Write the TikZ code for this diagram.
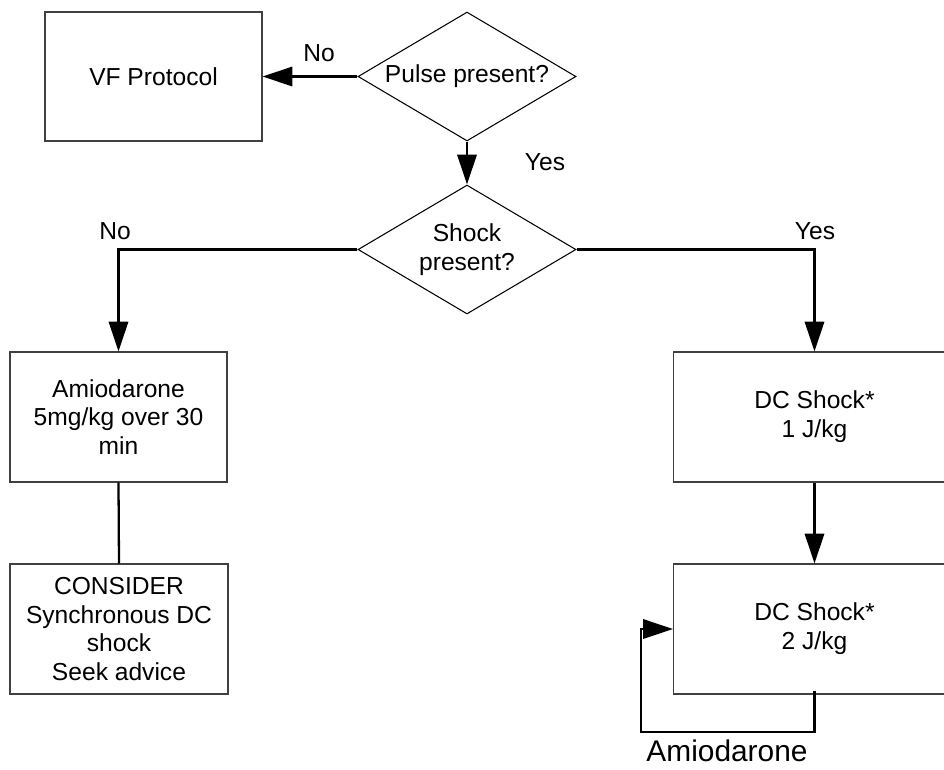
\documentclass[tikz,border=0pt]{standalone}
\usepackage{fontspec}
\setmainfont{Liberation Sans}
\usetikzlibrary{shapes.geometric,arrows.meta,positioning}
\tikzset{
  box/.style={draw=black!75, line width=0.6pt, rectangle, inner sep=0pt, align=center, font=\fontsize{14pt}{16.4pt}\selectfont},
  decision/.style={draw=black, line width=0.6pt, diamond, aspect=1.69, inner sep=0pt, minimum width=4.36cm, minimum height=2.58cm, align=center, font=\fontsize{14pt}{16.4pt}\selectfont},
  conn/.style={line width=1.3pt, draw=black},
  arr/.style={conn, -{Triangle[length=17pt,width=11pt]}},
  lbl/.style={font=\fontsize{14pt}{16.4pt}\selectfont, inner sep=0pt},
  biglbl/.style={font=\fontsize{17pt}{20pt}\selectfont, inner sep=0pt}
}
\begin{document}
\begin{tikzpicture}[x=0.02cm,y=-0.02cm]
\useasboundingbox (0,0) rectangle (944,769);
\clip (0,0) rectangle (944,769);
\fill[white] (0,0) rectangle (944,769);

\node[box, minimum width=4.34cm, minimum height=2.58cm] (vf) at (153.5,76.5) {VF Protocol};
\node[decision] (pulse) at (467,76.5) {Pulse present?};
\node[decision] (shock) at (467,249.5) {Shock\\present?};
\node[box, minimum width=4.34cm, minimum height=2.6cm] (amio) at (118.5,417) {Amiodarone\\5mg/kg over 30\\min};
\node[box, minimum width=4.36cm, minimum height=2.6cm] (consider) at (119,629) {CONSIDER\\Synchronous DC\\shock\\Seek advice};
\node[box, minimum width=5.64cm, minimum height=2.6cm] (dc1) at (814.5,417) {DC Shock*\\1 J/kg};
\node[box, minimum width=5.64cm, minimum height=2.6cm] (dc2) at (814.5,629) {DC Shock*\\2 J/kg};

\node[lbl] (lno1) at (319,53) {No};
\node[lbl] (lyes1) at (545,162) {Yes};
\node[lbl] (lno2) at (115,231) {No};
\node[lbl] (lyes2) at (815,231) {Yes};
\node[biglbl] (lamio) at (727,751) {Amiodarone};

\coordinate (lc) at (641,732);

\draw[arr] (pulse.west) -- (vf.east);
\draw[arr] (pulse.south) -- (shock.north);
\draw[arr] (shock.west) -| (amio.north);
\draw[arr] (shock.east) -| (dc1.north);
\draw[conn] (amio.south) -- (consider.north);
\draw[arr] (dc1.south) -- (dc2.north);
\draw[arr] ([yshift=0.08cm]dc2.south) |- (lc) |- (dc2.west);
\end{tikzpicture}
\end{document}
